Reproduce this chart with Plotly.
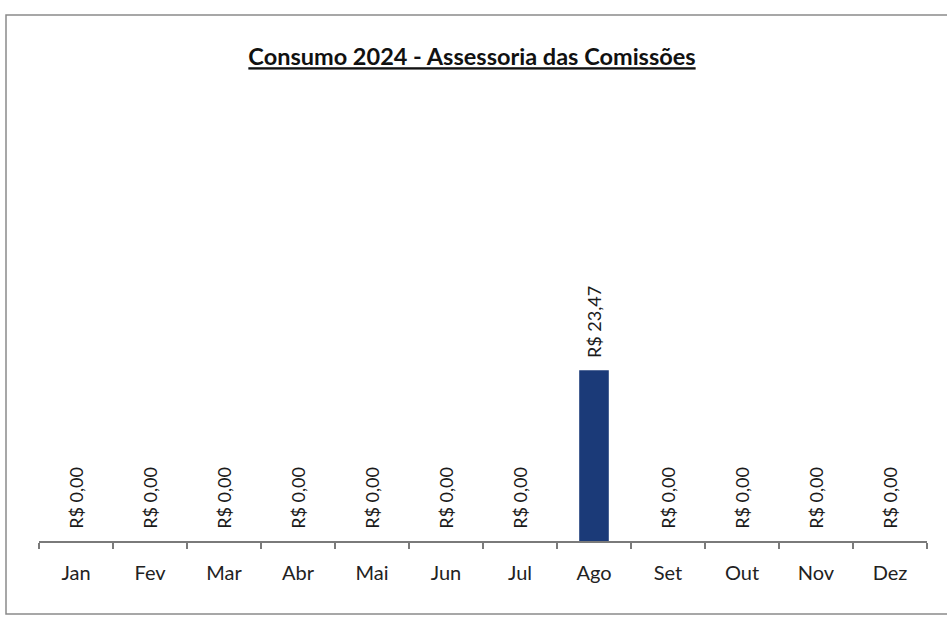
import plotly.graph_objects as go

months = ["Jan", "Fev", "Mar", "Abr", "Mai", "Jun", "Jul", "Ago", "Set", "Out", "Nov", "Dez"]
values = [0, 0, 0, 0, 0, 0, 0, 23.47, 0, 0, 0, 0]
title_text = "Consumo 2024 - Assessoria das Comissões"


def brl(v):
    s = f"{v:,.2f}".replace(",", "X").replace(".", ",").replace("X", ".")
    return f"R$ {s}"


labels = ["\u00a0\u00a0" + brl(v) for v in values]

W, H = 947, 618
ml, mr, mt, mb = 39, 20, 90, 77
pw = W - ml - mr
ph = H - mt - mb


def px_x(x):
    return (x - ml) / pw


def px_y(y):
    return (H - mb - y) / ph


fig = go.Figure(
    go.Bar(
        x=months,
        y=values,
        marker=dict(color="#1b3a78", line=dict(width=0)),
        text=labels,
        textposition="outside",
        textangle=-90,
        textfont=dict(family="Lato, 'Open Sans', sans-serif", size=18, color="#1a1a1a"),
        cliponaxis=False,
        constraintext="none",
        hoverinfo="skip",
    )
)

fig.update_layout(
    width=W,
    height=H,
    margin=dict(l=ml, r=mr, t=mt, b=mb),
    paper_bgcolor="white",
    plot_bgcolor="white",
    bargap=0.6,
    showlegend=False,
    title=dict(
        text=f"<b><u>{title_text}</u></b>",
        x=px_x(472),
        xanchor="center",
        xref="paper",
        y=1 - 57 / H,
        yref="container",
        yanchor="middle",
        font=dict(family="Lato, 'Open Sans', sans-serif", size=23.5, color="#111111"),
    ),
    xaxis=dict(
        showline=True,
        linecolor="#7a7a7a",
        linewidth=1.5,
        ticks="outside",
        tickson="boundaries",
        tickcolor="#7a7a7a",
        ticklen=6,
        tickwidth=1.2,
        showgrid=False,
        ticklabelstandoff=13,
        tickfont=dict(family="Lato, 'Open Sans', sans-serif", size=20, color="#222222"),
        fixedrange=True,
    ),
    yaxis=dict(
        range=[0, 62],
        visible=False,
        showgrid=False,
        zeroline=False,
        fixedrange=True,
    ),
    shapes=[
        dict(
            type="rect",
            xref="paper",
            yref="paper",
            x0=px_x(6),
            x1=px_x(960),
            y0=px_y(614),
            y1=px_y(15),
            line=dict(color="#8a8a8a", width=1.5),
            fillcolor="rgba(0,0,0,0)",
            layer="below",
        )
    ],
)

fig.write_html(
    "out.html",
    config={"displayModeBar": False, "staticPlot": True},
    post_script="document.body.style.margin='0';document.body.style.padding='0';",
)
